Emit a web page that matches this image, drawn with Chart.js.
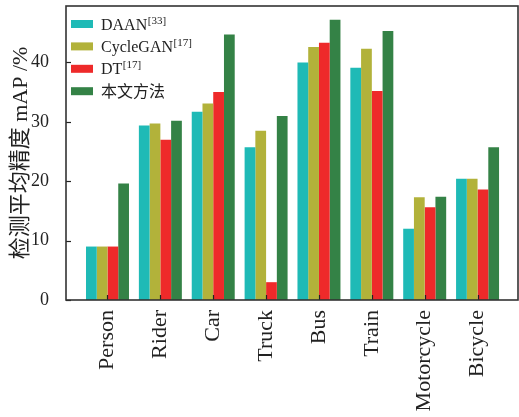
<!DOCTYPE html>
<html>
<head>
<meta charset="utf-8">
<script src="https://cdn.jsdelivr.net/npm/chart.js@4"></script>
<style>
html,body{margin:0;padding:0;background:#fff;}
#c{display:block;}
</style>
</head>
<body>
<canvas id="c" width="519" height="417"></canvas>
<script>
const categories = ['Person','Rider','Car','Truck','Bus','Train','Motorcycle','Bicycle'];
const seriesNames = ['DAAN','CycleGAN','DT','本文方法'];
const seriesRefs = ['[33]','[17]','[17]',''];
const daan     = [9.0, 29.4, 31.7, 25.7, 40.0, 39.1, 12.0, 20.4];
const cyclegan = [9.0, 29.7, 33.1, 28.5, 42.6, 42.3, 17.3, 20.4];
const dt       = [9.0, 27.0, 35.0, 3.0, 43.3, 35.2, 15.6, 18.6];
const ours     = [19.6, 30.2, 44.7, 31.0, 47.2, 45.3, 17.4, 25.7];
const yTicks = [0, 10, 20, 30, 40];
const yTitle = '检测平均精度 mAP /%';

const colors = ['#1fbab6', '#b2b23a', '#ee2a2a', '#348246'];
const serif = '"Liberation Serif", "Noto Sans CJK SC", serif';

const frame = {
  id: 'frame',
  afterDraw(chart) {
    const ctx = chart.ctx, a = chart.chartArea;
    ctx.save();
    ctx.strokeStyle = '#222';
    ctx.lineWidth = 1.2;
    const ys = chart.scales.y, xs = chart.scales.x;
    yTicks.forEach(v => {
      const py = Math.round(ys.getPixelForValue(v)) + 0.5;
      ctx.beginPath(); ctx.moveTo(a.left, py); ctx.lineTo(a.left + 5, py); ctx.stroke();
    });
    categories.forEach((c, i) => {
      const px = Math.round(xs.getPixelForValue(i)) + 0.5;
      ctx.beginPath(); ctx.moveTo(px, a.bottom); ctx.lineTo(px, a.bottom - 5); ctx.stroke();
    });
    ctx.strokeStyle = '#333';
    ctx.lineWidth = 1.6;
    ctx.strokeRect(a.left, a.top, a.right - a.left, a.bottom - a.top);
    chart.data.datasets.forEach((ds, i) => {
      const cy = a.top + 18 + i * 22.4;
      ctx.fillStyle = ds.backgroundColor;
      ctx.fillRect(a.left + 5, cy - 4, 22, 8);
      ctx.fillStyle = '#222';
      ctx.font = '16px ' + serif;
      ctx.textBaseline = 'alphabetic';
      ctx.textAlign = 'left';
      ctx.fillText(seriesNames[i], a.left + 35, cy + 5.5);
      const w = ctx.measureText(seriesNames[i]).width;
      if (seriesRefs[i]) {
        ctx.font = '11px ' + serif;
        ctx.fillText(seriesRefs[i], a.left + 35 + w + 0.5, cy - 0.5);
      }
    });
    ctx.restore();
  }
};

function noPad(scale) {
  scale.paddingLeft = 0; scale.paddingRight = 0;
  scale.paddingTop = 0; scale.paddingBottom = 0;
}

new Chart(document.getElementById('c'), {
  type: 'bar',
  data: {
    labels: categories.map((c, i) => i),
    datasets: [
      { label: seriesNames[0] + seriesRefs[0], data: daan, backgroundColor: colors[0] },
      { label: seriesNames[1] + seriesRefs[1], data: cyclegan, backgroundColor: colors[1] },
      { label: seriesNames[2] + seriesRefs[2], data: dt, backgroundColor: colors[2] },
      { label: seriesNames[3], data: ours, backgroundColor: colors[3] }
    ]
  },
  options: {
    responsive: false,
    animation: false,
    devicePixelRatio: 1,
    layout: { padding: { top: 6, right: 1, left: 0, bottom: 0 } },
    datasets: { bar: { categoryPercentage: 0.813, barPercentage: 1.0, borderWidth: 0 } },
    plugins: { legend: { display: false }, tooltip: { enabled: false } },
    scales: {
      x: {
        type: 'linear',
        offset: false,
        min: -0.785,
        max: 7.765,
        grid: { display: false, drawTicks: false },
        border: { display: false },
        afterBuildTicks(scale) { scale.ticks = categories.map((c, i) => ({ value: i })); },
        afterFit(scale) { scale.height = 117; noPad(scale); },
        ticks: {
          autoSkip: false,
          minRotation: 90,
          maxRotation: 90,
          padding: 10,
          color: '#222',
          font: { family: serif, size: 22 },
          callback: (v) => categories[Math.round(v)]
        }
      },
      y: {
        min: 0,
        max: 49.5,
        grid: { display: false, drawTicks: false },
        border: { display: false },
        afterBuildTicks(scale) { scale.ticks = yTicks.map(v => ({ value: v })); },
        afterFit(scale) { scale.width = 66; noPad(scale); },
        ticks: {
          padding: 17,
          color: '#222',
          font: { family: serif, size: 18 }
        },
        title: {
          display: true,
          text: yTitle,
          color: '#222',
          padding: { top: 8, bottom: 0 },
          font: { family: serif, size: 22 }
        }
      }
    }
  },
  plugins: [frame]
});
</script>
</body>
</html>
